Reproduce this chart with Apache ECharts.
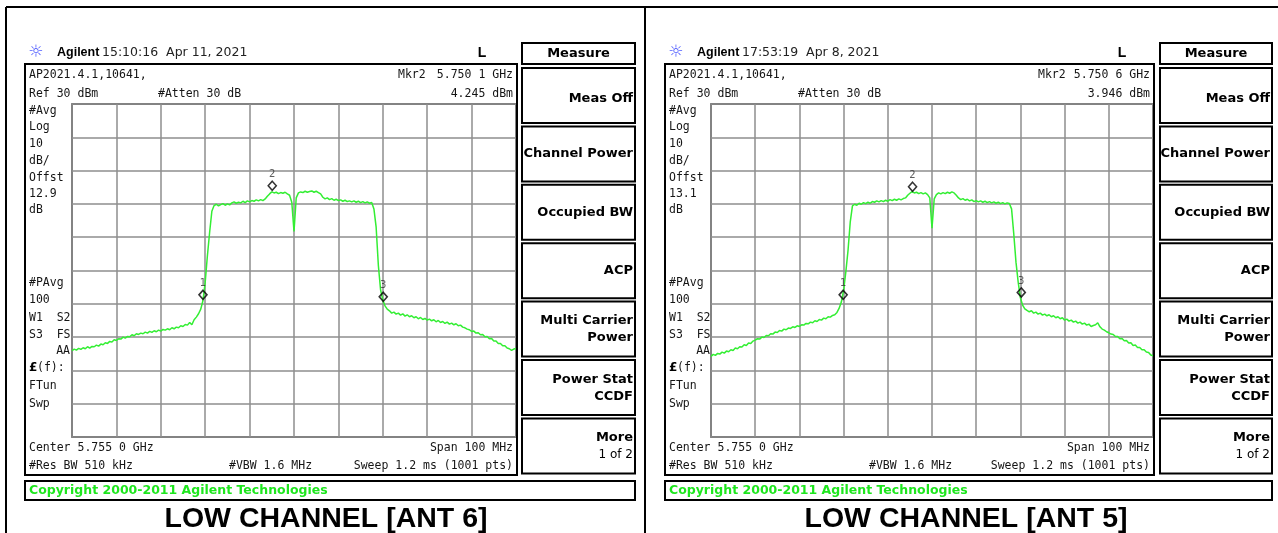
<!DOCTYPE html>
<html>
<head>
<meta charset="utf-8">
<title>Spectrum plots</title>
<script src="https://cdn.jsdelivr.net/npm/echarts@6/dist/echarts.min.js"></script>
<style>
  html, body { margin: 0; padding: 0; background: #fff; }
  #chart { width: 1278px; height: 533px; }
</style>
</head>
<body>
<div id="chart"></div>
<script>
// Sweep settings shared by both screens (center 5.755 GHz, span 100 MHz)
const centerGHz = 5.755;
const spanMHz = 100;
const refLevelDbm = 30;
const dbPerDiv = 10;
const traceStartMHz = -50;   // first sweep point, relative to center
const traceStepMHz = 0.5;    // spacing of the listed sweep points

// ANT 6 trace, dBm
const ant6Level = [
  -44.1,-43.6,-43.9,-43.4,-43.7,-43.2,-43.5,-42.9,-43.3,-42.8,
  -42.9,-42.4,-42.7,-42.1,-42.3,-41.7,-41.9,-41.3,-41.5,-40.8,
  -41.0,-40.5,-40.6,-40.0,-40.3,-39.8,-39.9,-39.3,-39.6,-39.0,
  -39.2,-38.8,-39.0,-38.5,-38.8,-38.3,-38.6,-38.1,-38.4,-37.9,
  -38.2,-37.7,-37.9,-37.5,-37.8,-37.2,-37.5,-37.0,-37.2,-36.6,
  -36.8,-36.2,-36.4,-35.6,-36.3,-34.8,-34.0,-33.0,-31.6,-29.0,
  -23.5,-15.5,-8.5,-2.2,-0.5,-0.1,-0.6,-0.2,0.1,-0.4,
  0.0,-0.3,0.3,0.6,0.2,0.5,0.3,0.8,0.4,0.9,
  0.6,1.0,0.8,1.2,0.9,1.3,1.0,1.5,2.3,3.0,
  3.6,3.3,3.5,3.1,3.4,3.2,3.5,3.0,2.6,0.5,
  -8.3,1.8,3.3,3.6,3.4,3.8,3.5,3.7,3.9,3.5,
  3.8,3.4,3.0,2.0,1.5,1.8,1.3,1.6,1.1,1.4,
  1.0,1.2,0.8,1.1,0.7,0.9,0.6,0.9,0.5,0.8,
  0.4,0.7,0.3,0.6,0.2,0.4,-1.5,-7.0,-18.5,-25.8,
  -28.9,-30.6,-31.6,-32.1,-32.8,-32.5,-33.1,-32.8,-33.4,-33.0,
  -33.7,-33.3,-33.9,-33.6,-34.2,-33.9,-34.5,-34.1,-34.7,-34.4,
  -34.9,-34.6,-35.1,-34.8,-35.4,-35.0,-35.6,-35.3,-35.9,-35.5,
  -36.1,-35.8,-36.3,-36.0,-36.6,-36.4,-37.0,-37.2,-37.6,-37.8,
  -38.3,-38.2,-38.8,-38.7,-39.3,-39.2,-39.9,-39.8,-40.5,-40.4,
  -41.2,-41.2,-41.9,-41.9,-42.6,-42.6,-43.3,-43.5,-44.0,-43.6,
  -43.4
];

// ANT 5 trace, dBm
const ant5Level = [
  -45.8,-45.2,-45.5,-44.9,-45.1,-44.5,-44.8,-44.2,-44.4,-43.8,
  -44.0,-43.3,-43.5,-42.9,-43.0,-42.3,-42.5,-41.8,-41.9,-41.2,
  -40.9,-40.5,-40.6,-40.0,-40.1,-39.5,-39.6,-39.0,-39.1,-38.5,
  -38.6,-38.0,-38.2,-37.6,-37.8,-37.3,-37.4,-36.9,-37.1,-36.6,
  -36.8,-36.3,-36.4,-35.9,-36.0,-35.5,-35.7,-35.1,-35.3,-34.7,
  -34.9,-34.3,-34.5,-33.9,-34.0,-33.5,-33.3,-32.6,-31.3,-29.4,
  -26.0,-20.5,-14.0,-5.5,-0.6,-0.1,-0.4,0.2,-0.1,0.4,
  0.1,0.5,0.2,0.7,0.5,0.9,0.6,1.0,0.7,1.1,
  0.8,1.3,1.0,1.4,1.1,1.5,1.2,1.6,1.8,2.6,
  3.2,3.7,3.3,3.5,3.1,3.4,3.0,3.3,2.8,1.8,
  -7.3,1.5,2.8,3.3,3.0,3.4,3.1,3.5,3.2,3.6,
  3.3,2.6,1.8,1.3,1.6,1.1,1.4,0.9,1.2,0.7,
  1.0,0.6,0.9,0.5,0.8,0.4,0.7,0.3,0.6,0.2,
  0.5,0.1,0.4,0.0,0.3,0.1,-1.5,-9.0,-17.5,-23.5,
  -28.2,-30.4,-31.5,-32.0,-32.4,-32.1,-32.8,-32.5,-33.1,-32.8,
  -33.4,-33.1,-33.6,-33.3,-33.9,-33.6,-34.2,-33.9,-34.5,-34.2,
  -34.9,-34.6,-35.2,-34.9,-35.5,-35.2,-35.8,-35.5,-36.1,-35.8,
  -36.4,-36.1,-36.8,-36.5,-36.3,-35.7,-36.9,-37.6,-37.9,-38.4,
  -38.7,-39.1,-39.2,-39.8,-39.8,-40.5,-40.4,-41.1,-41.0,-41.8,
  -41.7,-42.5,-42.4,-43.1,-43.1,-43.8,-43.8,-44.5,-44.6,-45.4,
  -45.6
];

// Markers 1..3 (frequency in GHz, level in dBm)
const ant6MarkerGHz = [5.7345, 5.7501, 5.7751];
const ant6MarkerDbm = [-28.5, 4.245, -29.1];
const ant5MarkerGHz = [5.7349, 5.7506, 5.7752];
const ant5MarkerDbm = [-28.5, 3.946, -27.8];
const markerNames = ['1', '2', '3'];

const softkeyLabels = [
  ['Meas Off'], ['Channel Power'], ['Occupied BW'], ['ACP'],
  ['Multi Carrier', 'Power'], ['Power Stat', 'CCDF'], ['More', '1 of 2']
];

const panels = [
  {
    title: 'LOW CHANNEL [ANT 6]', time: '15:10:16  Apr 11, 2021', offset: '12.9',
    mkrFreq: '5.750 1 GHz', mkrLevel: '4.245 dBm',
    level: ant6Level, markerGHz: ant6MarkerGHz, markerDbm: ant6MarkerDbm,
    dx: 0, boxL: 25, boxR: 517, keyL: 522, keyR: 635, titleX: 326
  },
  {
    title: 'LOW CHANNEL [ANT 5]', time: '17:53:19  Apr 8, 2021', offset: '13.1',
    mkrFreq: '5.750 6 GHz', mkrLevel: '3.946 dBm',
    level: ant5Level, markerGHz: ant5MarkerGHz, markerDbm: ant5MarkerDbm,
    dx: 640, boxL: 665, boxR: 1154, keyL: 1160, keyR: 1272, titleX: 966
  }
];

const gridBoxes = [
  { left: 72, top: 104, width: 444, height: 333 },
  { left: 711, top: 104, width: 442, height: 333 }
];

const SCREEN_FONT = '11.5px "DejaVu Sans Mono"';
const KEY_FONT = 'bold 13px "DejaVu Sans"';
const TRACE_GREEN = '#33ee33';

function txt(text, x, y, extra) {
  return {
    type: 'text', x: x, y: y, silent: true, z: 10,
    style: Object.assign({
      text: text, font: SCREEN_FONT, fill: '#151515',
      align: 'left', verticalAlign: 'middle'
    }, extra || {})
  };
}
function box(x, y, w, h, lw) {
  return {
    type: 'rect', silent: true, z: 9,
    shape: { x: x, y: y, width: w, height: h },
    style: { fill: 'none', stroke: '#000', lineWidth: lw || 2 }
  };
}
function line(x1, y1, x2, y2, lw) {
  return {
    type: 'line', silent: true, z: 9,
    shape: { x1: x1, y1: y1, x2: x2, y2: y2 },
    style: { stroke: '#000', lineWidth: lw || 2 }
  };
}

function panelGraphics(p) {
  const g = [];
  const L = p.boxL + 4, R = p.boxR - 4, dx = p.dx;
  // instrument header
  g.push(txt('\u263C', 36 + dx, 53, { font: '17px "DejaVu Sans"', fill: '#4f5cff', align: 'center' }));
  g.push(txt('Agilent', 57 + dx, 53, { font: 'bold 12.5px "Liberation Sans"', fill: '#000' }));
  g.push(txt(p.time, 102 + dx, 53, { font: '12.5px "DejaVu Sans"', fill: '#222' }));
  g.push(txt('L', 482 + dx, 53, { font: 'bold 14px "Liberation Sans"', fill: '#000', align: 'center' }));
  // screen frame
  g.push(box(p.boxL, 64, p.boxR - p.boxL, 411));
  g.push(txt('AP2021.4.1,10641,', L, 75));
  g.push(txt('Mkr2', 398 + dx, 75));
  g.push(txt(p.mkrFreq, R, 75, { align: 'right' }));
  g.push(txt('Ref 30 dBm', L, 94));
  g.push(txt('#Atten 30 dB', 158 + dx, 94));
  g.push(txt(p.mkrLevel, R, 94, { align: 'right' }));
  const col = [['#Avg', 111], ['Log', 127], ['10', 144], ['dB/', 161], ['Offst', 178], [p.offset, 194], ['dB', 210],
               ['#PAvg', 283], ['100', 300], ['W1  S2', 318], ['S3  FS', 335], ['FTun', 386], ['Swp', 404]];
  col.forEach(c => g.push(txt(c[0], L, c[1])));
  g.push(txt('AA', 70 + dx, 351, { align: 'right' }));
  g.push(txt('\u00A3', L, 368, { font: 'bold 12px "DejaVu Sans"', fill: '#000' }));
  g.push(txt('(f):', L + 8, 368));
  g.push(txt('Center 5.755 0 GHz', L, 448));
  g.push(txt('Span 100 MHz', R, 448, { align: 'right' }));
  g.push(txt('#Res BW 510 kHz', L, 466));
  g.push(txt('#VBW 1.6 MHz', 229 + dx, 466));
  g.push(txt('Sweep 1.2 ms (1001 pts)', R, 466, { align: 'right' }));
  // softkey menu
  const kw = p.keyR - p.keyL;
  g.push(box(p.keyL, 43, kw, 21));
  g.push(txt('Measure', (p.keyL + p.keyR) / 2, 54, { font: KEY_FONT, fill: '#000', align: 'center' }));
  softkeyLabels.forEach((lab, k) => {
    const top = 68 + k * 58.4;
    g.push(box(p.keyL, top, kw, 55));
    const cy = top + 27.5;
    if (lab.length === 1) {
      g.push(txt(lab[0], p.keyR - 2, cy + (k === 0 ? 3 : 0), { font: KEY_FONT, fill: '#000', align: 'right' }));
    } else {
      g.push(txt(lab[0], p.keyR - 2, cy - 8, { font: KEY_FONT, fill: '#000', align: 'right' }));
      const second = lab[1] === '1 of 2' ? '12px "DejaVu Sans"' : KEY_FONT;
      g.push(txt(lab[1], p.keyR - 2, cy + 9, { font: second, fill: '#000', align: 'right' }));
    }
  });
  // status line
  g.push(box(p.boxL, 481, p.keyR - p.boxL, 19));
  g.push(txt('Copyright 2000-2011 Agilent Technologies', L, 491,
    { font: 'bold 12.5px "DejaVu Sans"', fill: '#1ee61e' }));
  // caption
  g.push(txt(p.title, p.titleX, 519,
    { font: 'bold 28.5px "Liberation Sans"', fill: '#000', align: 'center' }));
  return g;
}

let graphics = [
  line(6, 7, 1278, 7), line(6, 7, 6, 533), line(645, 7, 645, 533)
];
panels.forEach(p => { graphics = graphics.concat(panelGraphics(p)); });

const grids = gridBoxes.map(b => Object.assign({
  show: true, borderColor: '#333', borderWidth: 1.5, backgroundColor: 'transparent'
}, b));

const xAxes = panels.map((p, i) => ({
  type: 'value', gridIndex: i, min: -spanMHz / 2, max: spanMHz / 2, interval: spanMHz / 10,
  axisLabel: { show: false }, axisTick: { show: false }, axisLine: { show: false },
  splitLine: { show: true, lineStyle: { color: '#8e8e8e', width: 1.5 } }
}));
const yAxes = panels.map((p, i) => ({
  type: 'value', gridIndex: i, min: refLevelDbm - 10 * dbPerDiv, max: refLevelDbm, interval: dbPerDiv,
  axisLabel: { show: false }, axisTick: { show: false }, axisLine: { show: false },
  splitLine: { show: true, lineStyle: { color: '#8e8e8e', width: 1.5 } }
}));

const series = [];
panels.forEach((p, i) => {
  series.push({
    type: 'line', xAxisIndex: i, yAxisIndex: i, showSymbol: false, silent: true,
    animation: false, z: 3,
    lineStyle: { color: TRACE_GREEN, width: 1.5 },
    data: p.level.map((v, k) => [traceStartMHz + k * traceStepMHz, v])
  });
  series.push({
    type: 'scatter', xAxisIndex: i, yAxisIndex: i, silent: true, animation: false, z: 5,
    symbol: 'diamond', symbolSize: [8, 9], symbolOffset: [0, -4],
    itemStyle: { color: 'rgba(255,255,255,0)', borderColor: '#000', borderWidth: 1.6 },
    label: {
      show: true, position: 'top', distance: 1, formatter: d => d.name,
      fontSize: 10, fontFamily: 'DejaVu Sans', color: '#333'
    },
    data: p.markerGHz.map((f, k) => ({
      name: markerNames[k],
      value: [Math.round((f - centerGHz) * 1e4) / 10, p.markerDbm[k]]
    }))
  });
});

const chart = echarts.init(document.getElementById('chart'), null, { renderer: 'canvas' });
chart.setOption({
  animation: false,
  backgroundColor: '#fff',
  grid: grids,
  xAxis: xAxes,
  yAxis: yAxes,
  series: series,
  graphic: { elements: graphics }
});
</script>
</body>
</html>
